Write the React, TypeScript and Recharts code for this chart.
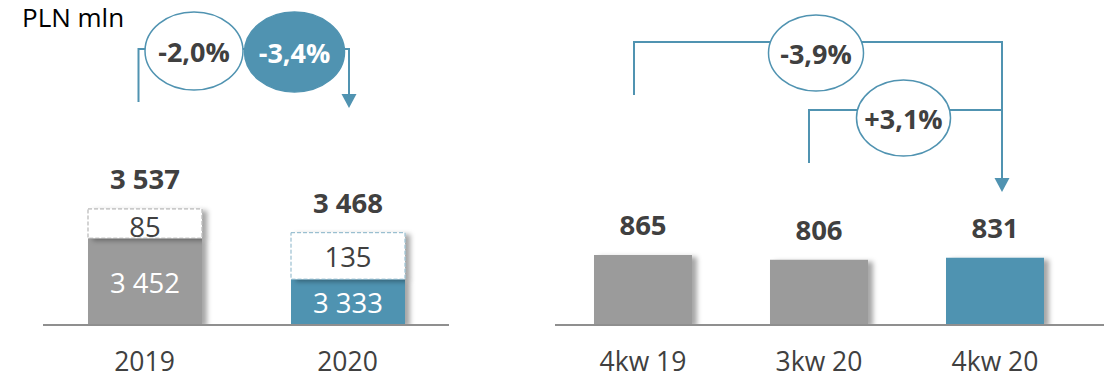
import { Bar, BarChart, Cell, LabelList, XAxis, YAxis } from "recharts";

// Annual figures (stacked: base + extra)
const years = ["2019", "2020"];
const baseValues = [3452, 3333];
const extraValues = [85, 135];
const yearChanges = ["-2,0%", "-3,4%"];

// Quarterly figures
const quarters = ["4kw 19", "3kw 20", "4kw 20"];
const quarterValues = [865, 806, 831];
const quarterChanges = ["-3,9%", "+3,1%"];

const BLUE = "#5093b1";
const GRAY = "#9b9b9b";
const TEXT = "#404040";
const FONT = "'Open Sans', sans-serif";

const HEIGHT = 379;
const TOP = 15;
const AXIS_H = 54;
const PLOT_BOTTOM = HEIGHT - AXIS_H;

// left chart layout
const L_MARGIN = { top: TOP, right: 11, left: 43, bottom: 0 };
const L_WIDTH = 460;
const L_BAND = (L_WIDTH - L_MARGIN.left - L_MARGIN.right) / years.length;
const lCenter = (i: number) => L_MARGIN.left + L_BAND * (i + 0.5);

// right chart layout
const R_LEFT = 500;
const R_WIDTH = 604;
const R_MARGIN = { top: TOP, right: 0, left: 55, bottom: 0 };
const R_PAD = 21;
const R_BAND = (R_WIDTH - R_MARGIN.left - R_MARGIN.right - R_PAD) / quarters.length;
const rCenter = (i: number) => R_LEFT + R_MARGIN.left + R_BAND * (i + 0.5);

const fmt = (v: number) => String(v).replace(/\B(?=(\d{3})+(?!\d))/g, " ");

const yearData = years.map((year, i) => ({ year, base: baseValues[i], extra: extraValues[i] }));
const quarterData = quarters.map((q, i) => ({ q, value: quarterValues[i] }));

function Shadow({ id }: { id: string }) {
  return (
    <defs>
      <filter id={id} x="-20%" y="-20%" width="150%" height="150%">
        <feDropShadow dx="5" dy="2" stdDeviation="2.5" floodColor="#000" floodOpacity="0.35" />
      </filter>
    </defs>
  );
}

function ShadowRect(props: any) {
  const { x = 0, y = 0, width = 0, height = 0, fill, stroke, filterId } = props;
  const bottom = Math.min(y + height, PLOT_BOTTOM);
  const h = Math.max(bottom - y, 0);
  return (
    <rect
      x={x}
      y={y}
      width={width}
      height={h}
      fill={fill}
      stroke={stroke}
      strokeWidth={stroke ? 1 : 0}
      strokeDasharray={stroke ? "4 2" : undefined}
      filter={`url(#${filterId})`}
    />
  );
}

function CategoryTick({ x, y, payload }: any) {
  return (
    <text x={x} y={y + 46} textAnchor="middle" fill={TEXT} fontSize={26.5} fontFamily={FONT}>
      {payload.value}
    </text>
  );
}

function InnerLabel(props: any) {
  const { x = 0, y = 0, width = 0, height = 0, value, color, shift = 0 } = props;
  const bottom = Math.min(y + height, PLOT_BOTTOM);
  const cy = (y + bottom) / 2 + shift;
  return (
    <text x={x + width / 2} y={cy + 10} textAnchor="middle" fill={color} fontSize={27.5} fontFamily={FONT}>
      {fmt(Number(value))}
    </text>
  );
}

function TopLabel({ x = 0, y = 0, width = 0, text }: any) {
  return (
    <text x={x + width / 2} y={y - 19.5} textAnchor="middle" fill={TEXT} fontSize={27.5} fontWeight={700} fontFamily={FONT}>
      {text}
    </text>
  );
}

const dashColors = ["#a9a9a9", "#86b3c8"];

function YearChart() {
  return (
    <BarChart width={L_WIDTH} height={HEIGHT} data={yearData} margin={L_MARGIN}>
      <Shadow id="shadowYears" />
      <XAxis
        dataKey="year"
        height={AXIS_H}
        tickSize={0}
        tickMargin={0}
        tickLine={false}
        axisLine={{ stroke: "#8f8f8f", strokeWidth: 2 }}
        tick={<CategoryTick />}
      />
      <YAxis hide domain={[3200, 4100]} allowDataOverflow />
      <Bar
        dataKey="base"
        stackId="a"
        barSize={114}
        isAnimationActive={false}
        shape={(p: any) => <ShadowRect {...p} filterId="shadowYears" />}
      >
        {yearData.map((d, i) => (
          <Cell key={d.year} fill={i === 0 ? GRAY : BLUE} />
        ))}
        <LabelList dataKey="base" content={(p: any) => <InnerLabel {...p} color="#ffffff" shift={1} />} />
      </Bar>
      <Bar
        dataKey="extra"
        stackId="a"
        barSize={114}
        isAnimationActive={false}
        shape={(p: any) => (
          <ShadowRect {...p} fill="#ffffff" stroke={dashColors[p.index]} filterId="shadowYears" />
        )}
      >
        <LabelList dataKey="extra" content={(p: any) => <InnerLabel {...p} color={TEXT} shift={p.index === 0 ? 3 : 1} />} />
        <LabelList
          dataKey="extra"
          content={(p: any) => <TopLabel {...p} text={fmt(baseValues[p.index] + extraValues[p.index])} />}
        />
      </Bar>
    </BarChart>
  );
}

function QuarterChart() {
  return (
    <BarChart width={R_WIDTH} height={HEIGHT} data={quarterData} margin={R_MARGIN}>
      <Shadow id="shadowQuarters" />
      <XAxis
        dataKey="q"
        height={AXIS_H}
        tickSize={0}
        tickMargin={0}
        tickLine={false}
        padding={{ left: 0, right: R_PAD }}
        axisLine={{ stroke: "#8f8f8f", strokeWidth: 2 }}
        tick={<CategoryTick />}
      />
      <YAxis hide domain={[0, 3830]} allowDataOverflow />
      <Bar
        dataKey="value"
        barSize={98}
        isAnimationActive={false}
        shape={(p: any) => <ShadowRect {...p} filterId="shadowQuarters" />}
      >
        {quarterData.map((d, i) => (
          <Cell key={d.q} fill={i === 2 ? BLUE : GRAY} />
        ))}
        <LabelList dataKey="value" content={(p: any) => <TopLabel {...p} text={fmt(Number(p.value))} />} />
      </Bar>
    </BarChart>
  );
}

function Bubble({ cx, cy, rx, ry, label, filled }: any) {
  return (
    <g>
      <ellipse cx={cx} cy={cy} rx={rx} ry={ry} fill={filled ? BLUE : "#ffffff"} stroke={BLUE} strokeWidth={1.5} />
      <text
        x={cx}
        y={cy + 11}
        textAnchor="middle"
        fill={filled ? "#ffffff" : TEXT}
        fontSize={27}
        fontWeight={700}
        fontFamily={FONT}
      >
        {label}
      </text>
    </g>
  );
}

function Arrow({ x, y }: { x: number; y: number }) {
  return <polygon points={`${x - 7.5},${y - 14} ${x + 7.5},${y - 14} ${x},${y}`} fill={BLUE} />;
}

// brackets and change bubbles drawn over both charts
function Annotations() {
  const a = lCenter(0) - 6;
  const b = lCenter(1) + 1.5;
  const p = rCenter(0) - 9;
  const q = rCenter(1) - 10;
  const r = rCenter(2) + 7;
  return (
    <svg width={1104} height={HEIGHT} style={{ position: "absolute", left: 0, top: 0, pointerEvents: "none" }}>
      <text x={22} y={27} fill="#000" fontSize={26} fontFamily={FONT}>
        PLN mln
      </text>

      <polyline points={`${a},102 ${a},49 ${b},49 ${b},95`} fill="none" stroke={BLUE} strokeWidth={2} />
      <Arrow x={b} y={108} />
      <Bubble cx={194} cy={51} rx={49} ry={39} label={yearChanges[0]} />
      <Bubble cx={294.5} cy={52} rx={50} ry={40} label={yearChanges[1]} filled />

      <polyline points={`${p},95 ${p},42 ${r},42 ${r},180`} fill="none" stroke={BLUE} strokeWidth={2} />
      <polyline points={`${q},163 ${q},110 ${r},110`} fill="none" stroke={BLUE} strokeWidth={2} />
      <Arrow x={r} y={192} />
      <Bubble cx={816} cy={53} rx={47.5} ry={38} label={quarterChanges[0]} />
      <Bubble cx={903.5} cy={118} rx={47} ry={38} label={quarterChanges[1]} />
    </svg>
  );
}

export default function App() {
  return (
    <div style={{ position: "absolute", left: 0, top: 0, width: 1104, height: HEIGHT, background: "#fff", overflow: "hidden" }}>
      <div style={{ position: "absolute", left: 0, top: 0 }}>
        <YearChart />
      </div>
      <div style={{ position: "absolute", left: R_LEFT, top: 0 }}>
        <QuarterChart />
      </div>
      <Annotations />
    </div>
  );
}
